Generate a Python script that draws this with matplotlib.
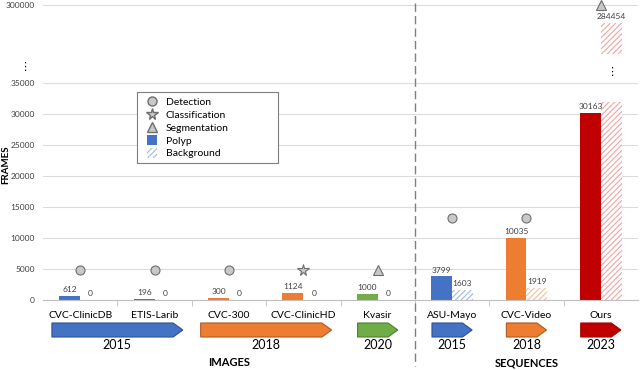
#Polyp datasets: frames per dataset (images vs sequences)

#importing libraries
import numpy as np
import matplotlib
matplotlib.use('Agg')
import matplotlib.pyplot as plt
import matplotlib.transforms as mtransforms
from matplotlib.patches import Polygon, Patch, Rectangle
from matplotlib.lines import Line2D
from matplotlib.legend_handler import HandlerPatch

plt.rcParams['font.family'] = ['Lato', 'DejaVu Sans']
plt.rcParams['hatch.linewidth'] = 0.8

#data
categories = ['CVC-ClinicDB', 'ETIS-Larib', 'CVC-300', 'CVC-ClinicHD', 'Kvasir',
              'ASU-Mayo', 'CVC-Video', 'Ours']
polyp = [612, 196, 300, 1124, 1000, 3799, 10035, 30163]
background = [0, 0, 0, 0, 0, 1603, 1919, 284454]
tasks = ['Detection', 'Detection', 'Detection', 'Classification', 'Segmentation',
         'Detection', 'Detection', 'Segmentation']
task_y = [4800, 4800, 4800, 4800, 4800, 13200, 13200, 300000]
year_groups = [(0, 1, '2015'), (2, 3, '2018'), (4, 4, '2020'),
               (5, 5, '2015'), (6, 6, '2018'), (7, 7, '2023')]
sections = [(0, 4, 'IMAGES'), (5, 7, 'SEQUENCES')]

#colours
BLUE, ORANGE, GREEN, RED = '#4472C4', '#ED7D31', '#70AD47', '#C00000'
bar_colors = [BLUE, BLUE, ORANGE, ORANGE, GREEN, BLUE, ORANGE, RED]
hatch_colors = {BLUE: '#9fb8e6', ORANGE: '#f6bf9a', GREEN: '#b5d6a0', RED: '#f4a3a3'}
edge_colors = {BLUE: '#2f528f', ORANGE: '#ae5a21', GREEN: '#507e32', RED: '#a00000'}
group_colors = [BLUE, ORANGE, GREEN, BLUE, ORANGE, RED]
markers = {'Detection': 'o', 'Classification': '*', 'Segmentation': '^'}
msizes = {'Detection': 6.5, 'Classification': 8.5, 'Segmentation': 6.5}

#broken y axis (values above 35000 are squeezed)
knots_v = [0, 35000, 260000, 300000, 400000]
knots_d = [0, 35000, 40000, 47600, 66600]
def fwd(v):
    return np.interp(v, knots_v, knots_d)
def inv(d):
    return np.interp(d, knots_d, knots_v)

BREAK_LO = 32000   # lower piece of the cut bar
BREAK_HI = 245000  # upper piece starts here

fig = plt.figure(figsize=(6.4, 3.7), dpi=100)
ax = fig.add_axes([43/640, 70/370, 595/640, 297/370])
ax.set_yscale('function', functions=(fwd, inv))

x = np.arange(len(categories))
w = 0.28

#polyp bars
ax.bar(x - w/2, polyp, w, color=bar_colors, zorder=2)

#background bars (hatched), cut if too tall
bg = np.array(background)
low = np.minimum(bg, BREAK_LO)
ax.bar(x + w/2, low, w, color='white', edgecolor=[hatch_colors[c] for c in bar_colors],
       hatch='//////', linewidth=0, zorder=2)
for i in range(len(bg)):
    if bg[i] > BREAK_LO:
        ax.bar(x[i] + w/2, bg[i] - BREAK_HI, w, bottom=BREAK_HI, color='white',
               edgecolor=hatch_colors[bar_colors[i]], hatch='//////', linewidth=0, zorder=2)
        mid = inv((fwd(BREAK_LO) + fwd(BREAK_HI)) / 2 + 900)
        ax.text(x[i] + w/2, mid, '\u22ee', ha='center', va='center', fontsize=8,
                family=['DejaVu Sans'])

#value labels
for i in range(len(categories)):
    ax.annotate(str(polyp[i]), (x[i] - w/2, polyp[i]), xytext=(0, 2),
                textcoords='offset points', ha='center', va='bottom', fontsize=6, color='#404040')
    ax.annotate(str(background[i]), (x[i] + w/2, background[i]), xytext=(0, 2),
                textcoords='offset points', ha='center', va='bottom', fontsize=6, color='#404040')

#task markers
for i in range(len(categories)):
    t = tasks[i]
    ax.plot(x[i], task_y[i], marker=markers[t], markersize=msizes[t],
            markerfacecolor='#c8c8c8', markeredgecolor='#6e6e6e', markeredgewidth=0.8,
            linestyle='none', clip_on=False, zorder=4)

#axes styling
ax.set_xlim(-0.5, len(categories) - 0.5)
ax.set_ylim(0, inv(47903))
yt = [0, 5000, 10000, 15000, 20000, 25000, 30000, 35000, 300000]
ax.set_yticks(yt, [str(v) for v in yt])
ax.yaxis.grid(True, color='#dcdcdc', linewidth=0.8)
ax.set_axisbelow(True)
ax.tick_params(axis='y', length=0, labelsize=6, labelcolor='#404040', pad=6)
ax.set_xticks(x, categories)
ax.set_xticks(x[:-1] + 0.5, minor=True)
ax.tick_params(axis='x', which='major', length=0, labelsize=7.5, pad=8)
ax.tick_params(axis='x', which='minor', length=4, color='#bfbfbf')
for s in ['left', 'right', 'top']:
    ax.spines[s].set_visible(False)
ax.spines['bottom'].set_color('#bfbfbf')

#dots on the y axis
ytrans = mtransforms.blended_transform_factory(fig.transFigure, ax.transData)
ax.text(25/640, inv(37600), '\u22ee', transform=ytrans, ha='center', va='center',
        fontsize=8, family=['DejaVu Sans'])

fig.text(6/640, 1 - 165/370, 'FRAMES', rotation=90, ha='center', va='center',
         fontsize=7, fontweight='bold')

#year arrows under the axis
trans = mtransforms.blended_transform_factory(ax.transData, fig.transFigure)
y_lo, y_hi = 1 - 337/370, 1 - 323/370
y_mid = (y_lo + y_hi) / 2
tip = 0.13
for k, (a, b, yr) in enumerate(year_groups):
    pad = 0.38 if b > a else 0.27
    x0, x1 = a - pad, b + pad
    c = group_colors[k]
    poly = Polygon([(x0, y_lo), (x1 - tip, y_lo), (x1, y_mid), (x1 - tip, y_hi), (x0, y_hi)],
                   closed=True, facecolor=c, edgecolor=edge_colors[c], linewidth=0.8,
                   transform=trans, clip_on=False)
    ax.add_patch(poly)
    ax.text((x0 + x1) / 2, 1 - 345/370, yr, transform=trans, ha='center', va='center', fontsize=9)

for a, b, name in sections:
    ax.text((a + b) / 2, 1 - 363/370, name, transform=trans, ha='center', va='center',
            fontsize=8, fontweight='bold')

#divider between images and sequences
ax.add_line(Line2D([4.5, 4.5], [1 - 3/370, 1 - 366/370], transform=trans, color='#7f7f7f',
                   linestyle=(0, (6, 3)), linewidth=1, clip_on=False))

#legend
def square(legend, orig_handle, xdescent, ydescent, width, height, fontsize):
    s = height * 1.1
    return Rectangle((-xdescent + (width - s) / 2, -ydescent - 0.05 * height), s, s)

mk = dict(linestyle='none', markerfacecolor='#c8c8c8', markeredgecolor='#6e6e6e')
handles = [Line2D([], [], marker='o', markersize=6.5, **mk),
           Line2D([], [], marker='*', markersize=8.5, **mk),
           Line2D([], [], marker='^', markersize=6.5, **mk),
           Patch(facecolor=BLUE),
           Patch(facecolor='white', edgecolor=hatch_colors[BLUE], hatch='//////', linewidth=0)]
leg = ax.legend(handles, ['Detection', 'Classification', 'Segmentation', 'Polyp', 'Background'],
                loc='upper left', bbox_to_anchor=(0.158, 0.461, 0.237, 0.239), mode='expand',
                borderaxespad=0, fontsize=7.5, labelspacing=0.25, handlelength=2.0,
                handleheight=1.0, handletextpad=0.3, borderpad=0.45, fancybox=False,
                edgecolor='#7f7f7f', framealpha=1,
                handler_map={Patch: HandlerPatch(patch_func=square)})
leg.get_frame().set_linewidth(0.8)

fig.savefig('out.png', dpi=100)
